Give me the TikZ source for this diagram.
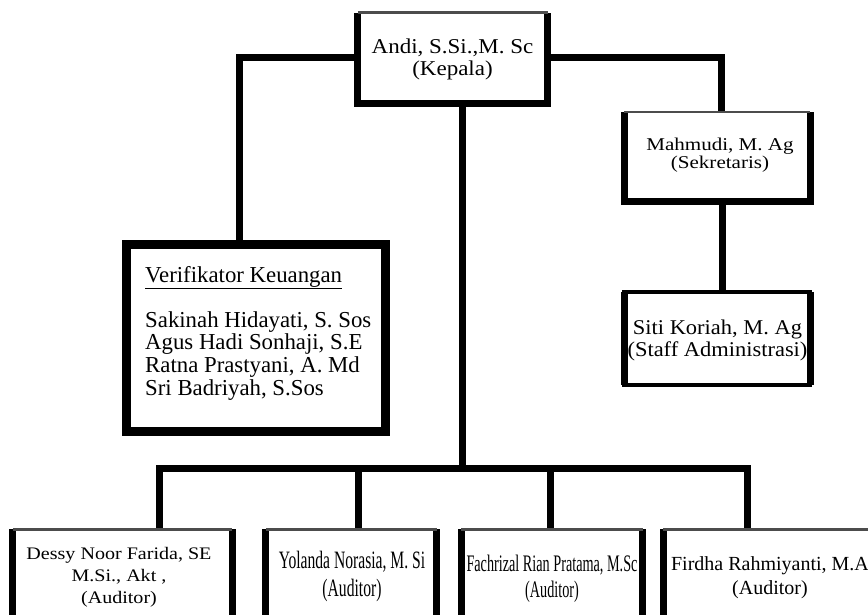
\documentclass[tikz,border=0pt]{standalone}
\usepackage{fontspec}
\setmainfont{Liberation Serif}
\newfontfamily\fKep[FakeStretch=1.09]{Liberation Serif}
\newfontfamily\fMah[FakeStretch=1.17]{Liberation Serif}
\newfontfamily\fSit[FakeStretch=1.07]{Liberation Serif}
\newfontfamily\fVer[FakeStretch=1.0]{Liberation Serif}
\newfontfamily\fDes[FakeStretch=1.14]{Liberation Serif}
\newfontfamily\fYol[FakeStretch=0.625]{Liberation Serif}
\newfontfamily\fFac[FakeStretch=0.6]{Liberation Serif}
\newfontfamily\fFir[FakeStretch=1.0]{Liberation Serif}
\newcommand\boxlrb[1]{%
  \draw[sideline] (#1.north west) -- (#1.south west) -- (#1.south east) -- (#1.north east);
  \draw[thintop] (#1.north west) -- (#1.north east);}
\begin{document}
\begin{tikzpicture}[x=1pt,y=-1pt,
  conn/.style={line width=7pt, line join=miter, black},
  sideline/.style={line width=7pt, line join=miter, black},
  thintop/.style={line width=2.5pt, black!70},
  orgbox/.style={rectangle, inner sep=0pt, draw=none},
  lbl/.style={inner sep=0pt, anchor=base, text=black}]
\useasboundingbox (0,0) rectangle (868,614);
\clip (0,0) rectangle (868,614);
\fill[white] (0,0) rectangle (868,614);

% box nodes
\node[orgbox, minimum width=189.5pt, minimum height=90.3pt] (kep) at (452.75,57.85) {};
\node[orgbox, minimum width=258.5pt, minimum height=186.5pt] (ver) at (256.25,338.25) {};
\node[orgbox, minimum width=185.5pt, minimum height=89pt] (mah) at (717.25,156.5) {};
\node[orgbox, minimum width=185.5pt, minimum height=93pt] (sit) at (717.25,338.5) {};
\node[orgbox, minimum width=219pt, minimum height=120.5pt] (des) at (122.5,589.75) {};
\node[orgbox, minimum width=170.5pt, minimum height=120.5pt] (yol) at (351.25,589.75) {};
\node[orgbox, minimum width=181pt, minimum height=120.5pt] (fac) at (552,589.75) {};
\node[orgbox, minimum width=214.5pt, minimum height=120.5pt] (fir) at (770.75,589.75) {};

% connector coordinates
\coordinate (vtop) at (239.5,245);
\coordinate (mtop) at (721,112);
\coordinate (ms) at (722,0);
\coordinate (bl) at (159,468.5);
\coordinate (by) at (358.5,468.5);
\coordinate (bt) at (462,468.5);
\coordinate (bf) at (550.5,468.5);
\coordinate (br) at (747.5,468.5);

% connectors
\draw[conn] (kep.west) -| (vtop);
\draw[conn] (kep.east) -| (mtop);
\draw[conn] (ms |- mah.south) -- (ms |- sit.north);
\draw[conn] (bt |- kep.south) -- (bt);
\draw[conn] (bl |- des.north) -- (bl) -- (br) -- (br |- fir.north);
\draw[conn] (by) -- (by |- yol.north);
\draw[conn] (bf) -- (bf |- fac.north);

% box borders
\boxlrb{kep}
\draw[line width=9pt, line join=miter] (ver.north west) rectangle (ver.south east);
\boxlrb{mah}
\draw[line width=4.5pt, line join=miter] (sit.north west) rectangle (sit.south east);
\draw[sideline] (sit.north west) -- (sit.south west) (sit.north east) -- (sit.south east);
\boxlrb{des}
\boxlrb{yol}
\boxlrb{fac}
\boxlrb{fir}

% texts
\node[lbl] (tkep) at (452.5,53.3) {\fKep\fontsize{21.1}{22}\selectfont
  \begin{tabular}[t]{@{}c@{}}Andi, S.Si.,M. Sc\\(Kepala)\end{tabular}};
\node[lbl] (tmah) at (720,150) {\fMah\fontsize{18}{18}\selectfont
  \begin{tabular}[t]{@{}c@{}}Mahmudi, M. Ag\\(Sekretaris)\end{tabular}};
\node[lbl] (tsit) at (717.5,334) {\fSit\fontsize{21}{22}\selectfont
  \begin{tabular}[t]{@{}c@{}}Siti Koriah, M. Ag\\(Staff Administrasi)\end{tabular}};
\node[lbl, anchor=base west] (tver) at (145,282) {\fVer\fontsize{22.8}{22.7}\selectfont
  \begin{tabular}[t]{@{}l@{}}\underline{Verifikator Keuangan}\\[22.3pt]
  Sakinah Hidayati, S. Sos\\Agus Hadi Sonhaji, S.E\\Ratna Prastyani, A. Md\\Sri Badriyah, S.Sos\end{tabular}};
\node[lbl] (tdes) at (119,559) {\fDes\fontsize{17.6}{22}\selectfont
  \begin{tabular}[t]{@{}c@{}}Dessy Noor Farida, SE\\M.Si., Akt ,\\(Auditor)\end{tabular}};
\node[lbl] (tyol) at (352,568) {\fYol\fontsize{25}{28}\selectfont
  \begin{tabular}[t]{@{}c@{}}Yolanda Norasia, M. Si\\(Auditor)\end{tabular}};
\node[lbl] (tfac) at (552,571) {\fFac\fontsize{23.7}{26}\selectfont
  \begin{tabular}[t]{@{}c@{}}Fachrizal Rian Pratama, M.Sc\\(Auditor)\end{tabular}};
\node[lbl] (tfir) at (770,570) {\fFir\fontsize{20}{24}\selectfont
  \begin{tabular}[t]{@{}c@{}}Firdha Rahmiyanti, M.A\\(Auditor)\end{tabular}};
\end{tikzpicture}
\end{document}
